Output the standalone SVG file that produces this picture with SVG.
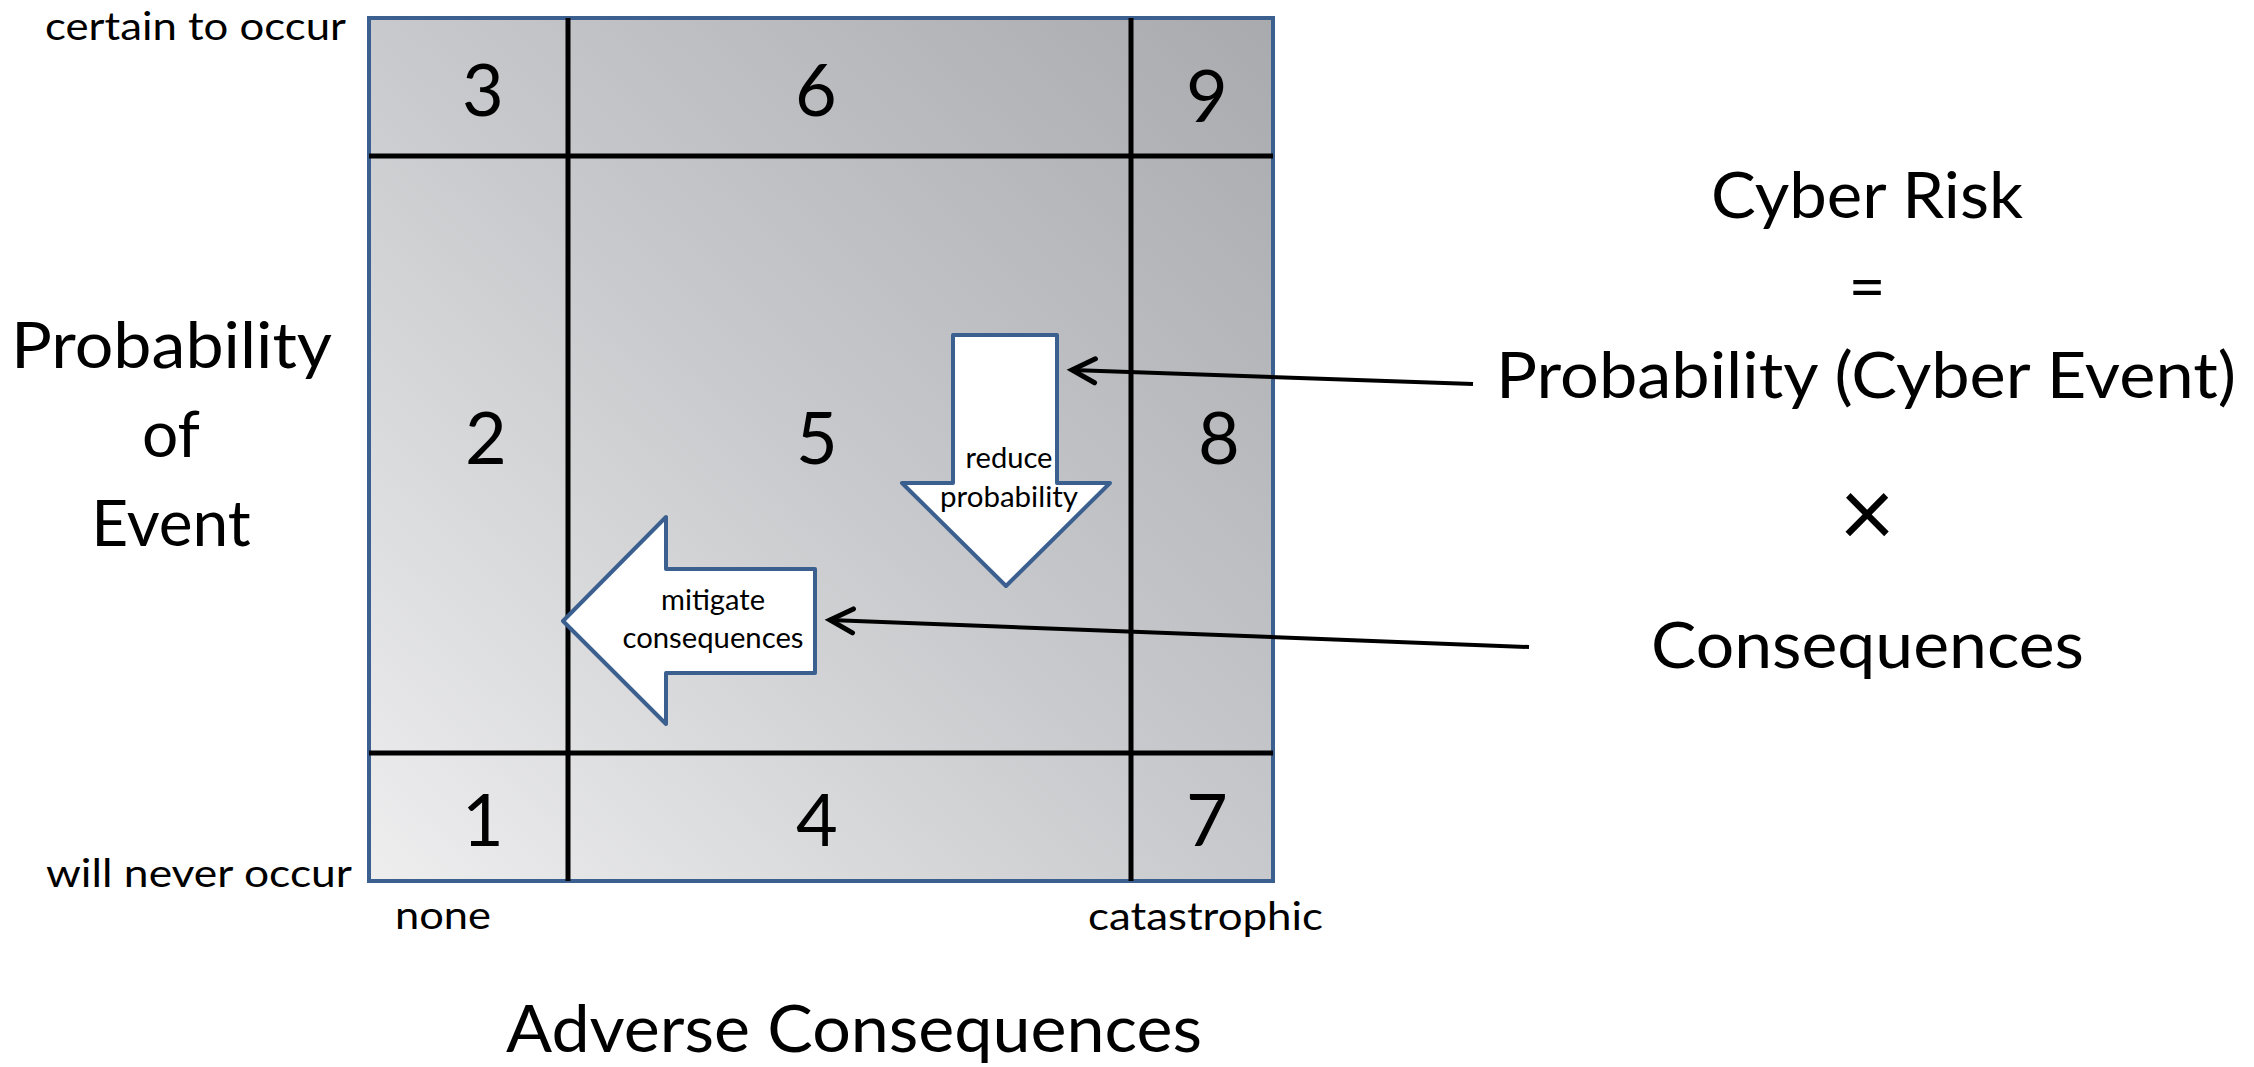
<svg xmlns="http://www.w3.org/2000/svg" width="2254" height="1067" viewBox="0 0 2254 1067">
<defs>
<linearGradient id="matGrad" x1="0" y1="1" x2="1" y2="0">
<stop offset="0" stop-color="#EEEEEF"/>
<stop offset="0.5" stop-color="#C8C9CC"/>
<stop offset="1" stop-color="#A9AAAD"/>
</linearGradient>
<marker id="open" viewBox="-30 -20 40 40" refX="0" refY="0" markerWidth="40" markerHeight="40" markerUnits="userSpaceOnUse" orient="auto" overflow="visible">
<path d="M -23 -12 L 0 0 L -23 12" fill="none" stroke="#000" stroke-width="5" stroke-linecap="round" stroke-linejoin="miter"/>
</marker>
</defs>
<style>
text{font-family:Lato,"Liberation Sans",sans-serif;fill:#000}
.num{font-size:72px;text-anchor:middle}
.grid{stroke:#000;stroke-width:5;fill:none}
.blk{fill:#fff;stroke:#3B5F8E;stroke-width:4;stroke-linejoin:round}
.small{font-size:28px;text-anchor:middle}
.conn{stroke:#000;stroke-width:4;fill:none;marker-end:url(#open)}
</style>
<rect width="2254" height="1067" fill="#fff"/>
<g id="matrix">
<rect x="369" y="18" width="904" height="863" fill="url(#matGrad)" stroke="#3B5F8E" stroke-width="4"/>
<line class="grid" x1="568" y1="18" x2="568" y2="881"/>
<line class="grid" x1="1131" y1="18" x2="1131" y2="881"/>
<line class="grid" x1="369" y1="156" x2="1273" y2="156"/>
<line class="grid" x1="369" y1="753" x2="1273" y2="753"/>
</g>
<g id="cell-3"><text class="num" x="483" y="116">3</text></g>
<g id="cell-6"><text class="num" x="816" y="116">6</text></g>
<g id="cell-9"><text class="num" x="1207" y="122">9</text></g>
<g id="cell-2"><text class="num" x="486" y="464">2</text></g>
<g id="cell-5"><text class="num" x="817" y="464">5</text></g>
<g id="cell-8"><text class="num" x="1219" y="464">8</text></g>
<g id="cell-1"><text class="num" x="483" y="846">1</text></g>
<g id="cell-4"><text class="num" x="817" y="846">4</text></g>
<g id="cell-7"><text class="num" x="1207" y="846">7</text></g>
<g id="axis-labels">
<text x="45" y="40" font-size="38" textLength="301" lengthAdjust="spacingAndGlyphs">certain to occur</text>
<text x="46" y="887" font-size="38" textLength="306" lengthAdjust="spacingAndGlyphs">will never occur</text>
<text x="395" y="929" font-size="38" textLength="96" lengthAdjust="spacingAndGlyphs">none</text>
<text x="1088" y="930" font-size="38" textLength="235" lengthAdjust="spacingAndGlyphs">catastrophic</text>
<text x="11" y="368" font-size="64" textLength="321" lengthAdjust="spacingAndGlyphs">Probability</text>
<text x="171" y="457" font-size="64" text-anchor="middle">of</text>
<text x="171" y="546" font-size="64" text-anchor="middle">Event</text>
<text x="506" y="1052" font-size="66" textLength="696" lengthAdjust="spacingAndGlyphs">Adverse Consequences</text>
</g>
<g id="reduce-probability">
<path class="blk" d="M953 335 H1057 V483 H1110 L1006 586 L902 483 H953 Z"/>
<text class="small" x="1009" y="468" textLength="87" lengthAdjust="spacingAndGlyphs">reduce</text>
<text class="small" x="1009" y="507" textLength="138" lengthAdjust="spacingAndGlyphs">probability</text>
</g>
<g id="mitigate-consequences">
<path class="blk" d="M815 569 V673 H666 V724 L563 621 L666 517 V569 Z"/>
<text class="small" x="713" y="610" textLength="104" lengthAdjust="spacingAndGlyphs">mitigate</text>
<text class="small" x="713" y="648" textLength="181" lengthAdjust="spacingAndGlyphs">consequences</text>
</g>
<g id="formula">
<text x="1711" y="218" font-size="64" textLength="312" lengthAdjust="spacingAndGlyphs">Cyber Risk</text>
<text x="1867" y="309" font-size="64" text-anchor="middle">=</text>
<text x="1496" y="398" font-size="64" textLength="740" lengthAdjust="spacingAndGlyphs">Probability (Cyber Event)</text>
<text x="1867" y="547" font-size="96" text-anchor="middle">×</text>
<text x="1651" y="668" font-size="64" textLength="433" lengthAdjust="spacingAndGlyphs">Consequences</text>
</g>
<g id="connectors">
<line class="conn" x1="1473" y1="384" x2="1072" y2="370"/>
<line class="conn" x1="1529" y1="647" x2="830" y2="620"/>
</g>
</svg>
